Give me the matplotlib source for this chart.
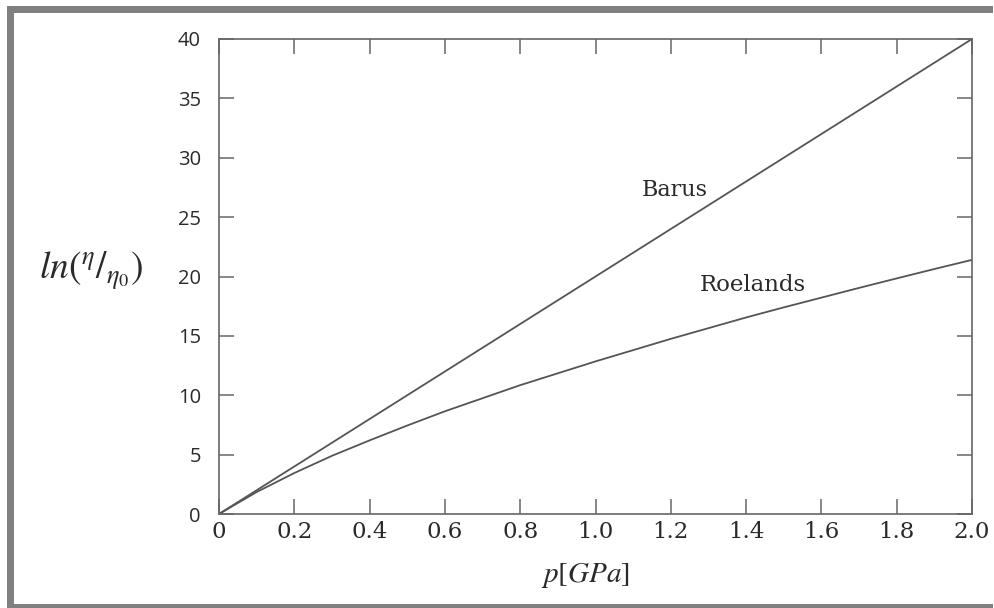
import matplotlib
matplotlib.use("Agg")
import matplotlib.pyplot as plt
import matplotlib.patches as patches

# pressure [GPa] and ln(eta/eta0) for both viscosity models
p_barus = [0.0, 2.0]
barus = [0.0, 40.0]

p_roelands = [0.0, 0.1, 0.2, 0.3, 0.4, 0.5, 0.6, 0.7, 0.8, 0.9, 1.0,
              1.1, 1.2, 1.3, 1.4, 1.5, 1.6, 1.7, 1.8, 1.9, 2.0]
roelands = [0.0, 1.85, 3.45, 4.9, 6.2, 7.45, 8.65, 9.75, 10.85, 11.85, 12.85,
            13.8, 14.75, 15.65, 16.55, 17.4, 18.22, 19.04, 19.84, 20.63, 21.4]

x_ticks = [0, 0.2, 0.4, 0.6, 0.8, 1.0, 1.2, 1.4, 1.6, 1.8, 2.0]
x_ticklabels = ["0", "0.2", "0.4", "0.6", "0.8", "1.0", "1.2", "1.4", "1.6", "1.8", "2.0"]
y_ticks = [0, 5, 10, 15, 20, 25, 30, 35, 40]

plt.rcParams["mathtext.fontset"] = "stix"

W, H = 994, 608
fig = plt.figure(figsize=(W / 100, H / 100), dpi=100)
fig.patch.set_facecolor("white")

# grey frame around the picture (top, left, bottom bands)
frame = "#808080"
fig.add_artist(patches.Rectangle((7 / W, 1 - 13 / H), 986 / W, 7 / H,
                                 transform=fig.transFigure, color=frame, lw=0))
fig.add_artist(patches.Rectangle((7 / W, 0), 7 / W, 1 - 6 / H,
                                 transform=fig.transFigure, color=frame, lw=0))
fig.add_artist(patches.Rectangle((7 / W, 0), 986 / W, 4 / H,
                                 transform=fig.transFigure, color=frame, lw=0))

ax = fig.add_axes([219 / W, 94 / H, 753 / W, 475 / H])

line_c = "#555555"
ax.plot(p_barus, barus, color=line_c, lw=1.3)
ax.plot(p_roelands, roelands, color=line_c, lw=1.3)

ax.set_xlim(0, 2.0)
ax.set_ylim(0, 40)

ax.set_xticks(x_ticks)
ax.set_xticklabels(x_ticklabels, family="DejaVu Serif", fontsize=16.5, color="#2a2a2a")
ax.set_yticks(y_ticks)
ax.set_yticklabels([str(v) for v in y_ticks], family="Open Sans", fontsize=14.5, color="#2a2a2a")

ax.tick_params(axis="both", which="both", direction="in", length=10.5, width=1.1,
               color="#666666", top=True, right=True)
ax.tick_params(axis="x", pad=5)
ax.tick_params(axis="y", pad=13)

for s in ax.spines.values():
    s.set_color("#666666")
    s.set_linewidth(1.2)

ax.text(1.124, 27.3, "Barus", family="DejaVu Serif", fontsize=16, color="#2a2a2a",
        ha="left", va="center")
ax.text(1.278, 19.3, "Roelands", family="DejaVu Serif", fontsize=16.5, color="#2a2a2a",
        ha="left", va="center")

fig.text(586 / W, 1 - 575 / H, r"$p[GPa]$", fontsize=21, color="#2a2a2a",
         ha="center", va="center")
fig.text(91 / W, 1 - 271 / H, r"$ln(^{\eta}/_{\eta_0})$", fontsize=27, color="#2a2a2a",
         ha="center", va="center")

fig.savefig("out.png", dpi=100, facecolor="white")
